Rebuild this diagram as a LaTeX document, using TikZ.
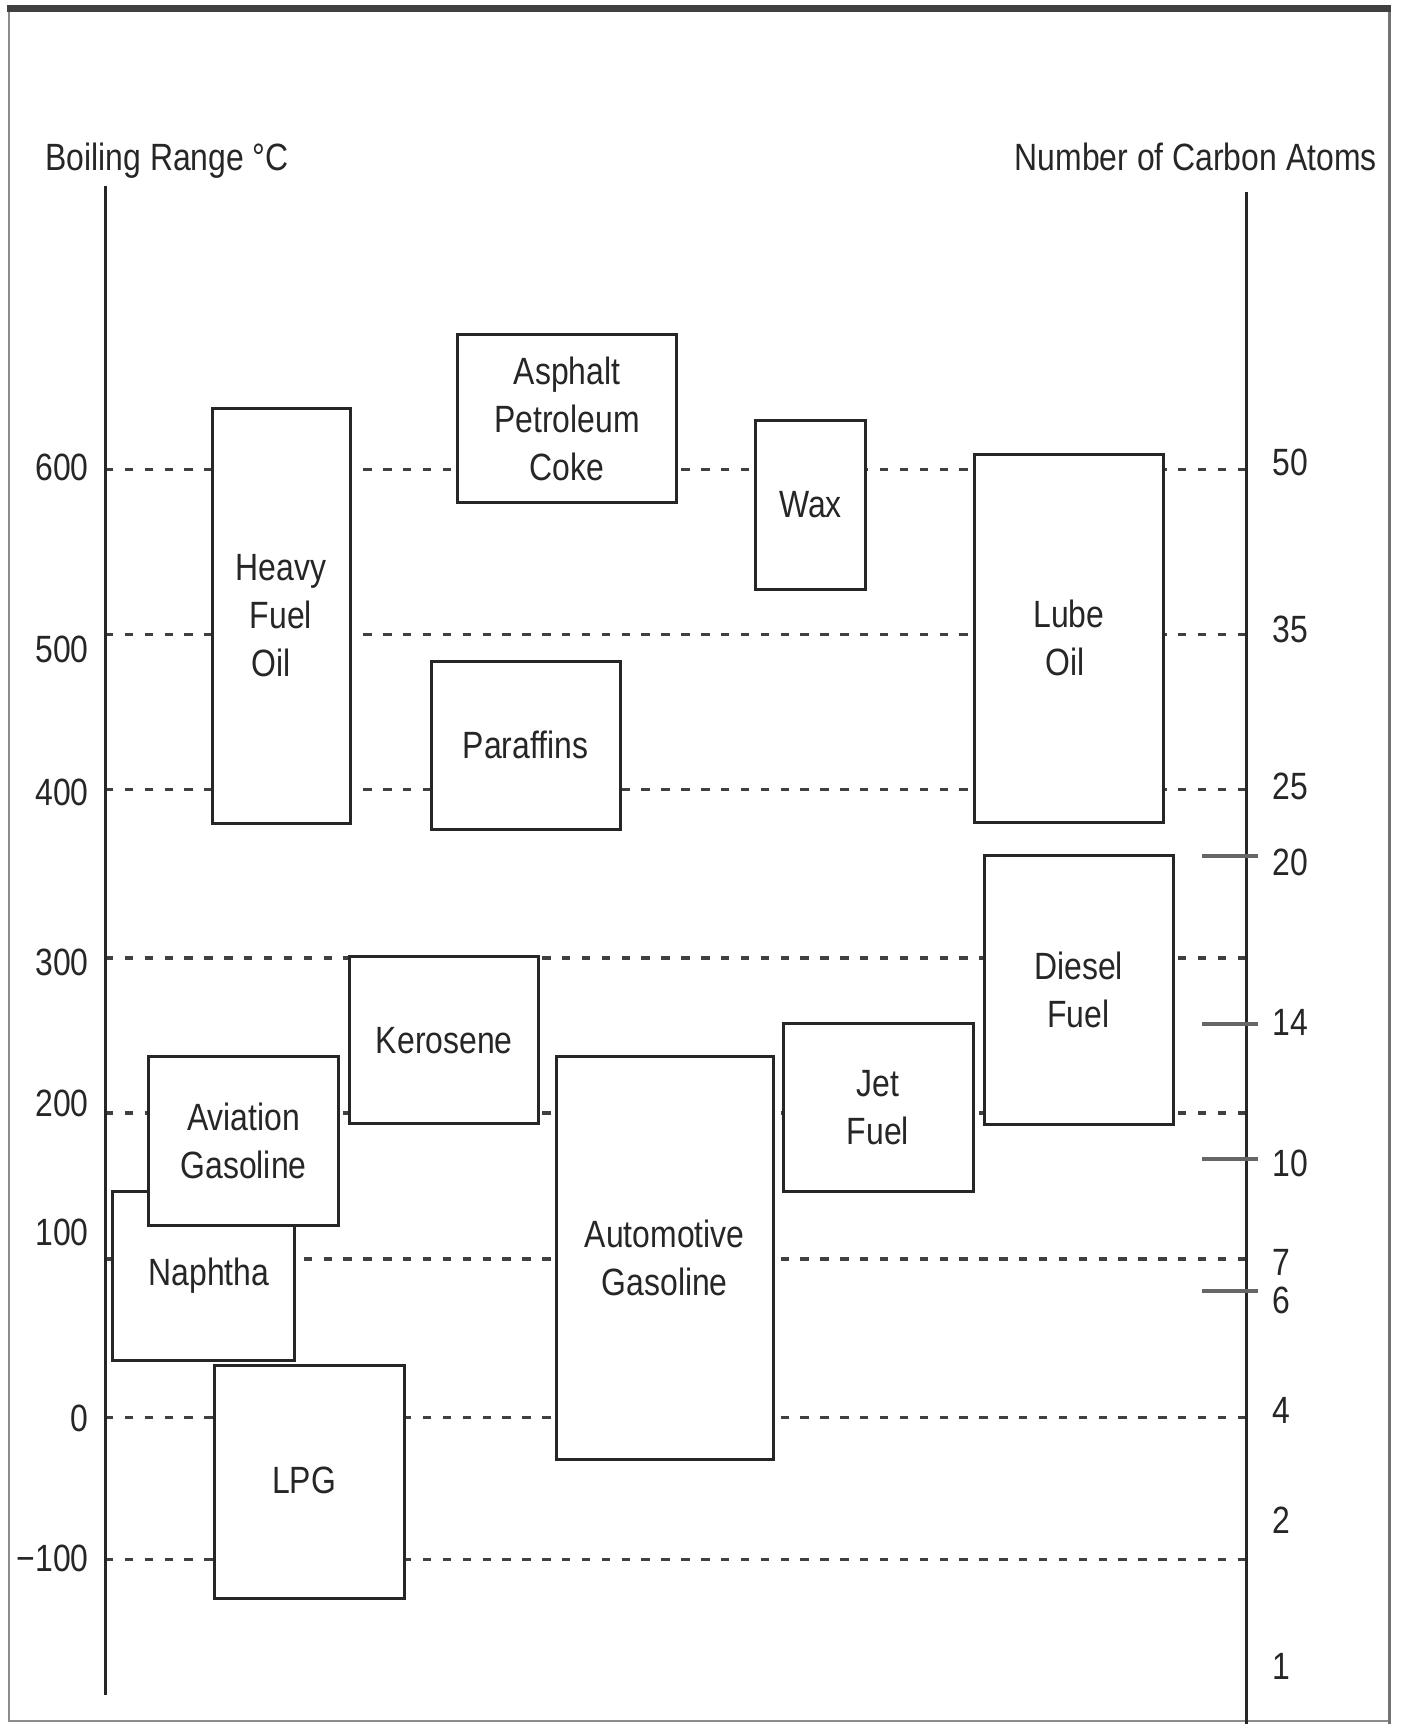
\documentclass[tikz,border=0pt]{standalone}
\usepackage{fontspec}
\setmainfont{Liberation Sans}[FakeStretch=0.84]
\begin{document}
\begin{tikzpicture}[x=0.5pt,y=-0.5pt,
  boxnode/.style={draw=black!85, fill=white, line width=1.5pt, inner sep=0pt, align=center,
    font=\fontsize{19}{24}\selectfont, text=black!85},
  gridline/.style={draw=black!75, line width=1.8pt, dash pattern=on 4.2pt off 5.735pt},
  axisline/.style={draw=black!85, line width=1.5pt},
  tickmark/.style={draw=black!60, line width=2pt},
  lbl/.style={font=\fontsize{19}{24}\selectfont, text=black!85, inner sep=0pt}]
\useasboundingbox (0,0) rectangle (1401,1724);
% frame
\draw[black!45, line width=1pt] (9,8) -- (9,1721) -- (1389,1721);
\draw[black!55, line width=1.5pt] (1389,8) -- (1389,1724);
\draw[black!75, line width=3.5pt] (7,8.5) -- (1391,8.5);
% axes
\coordinate (LT) at (105,186);
\coordinate (LB) at (105,1695);
\coordinate (RT) at (1246,192);
\coordinate (RB) at (1246,1724);
% grid lines
\foreach \yy in {469.6,634.5,789.6,957.8,1112.9,1259,1417.5,1559.4}
  \draw[gridline] (105,\yy) -- (1246,\yy);
\draw[axisline] (LT) -- (LB);
\draw[axisline] (RT) -- (RB);
% ticks on the right axis
\foreach \yy in {856,1024,1159,1291}
  \draw[tickmark] (1202,\yy) -- (1258,\yy);
% headers
\node[lbl, anchor=base west] (hl) at (45,170) {Boiling Range °C};
\node[lbl, anchor=base east] (hr) at (1377,170) {Number of Carbon Atoms};
% left labels
\foreach \t/\yy [count=\i] in {600/480.5,500/662.5,400/805.5,300/975.5,200/1116.5,100/1245.5,0/1431.5,{−100}/1571.5}
  \node[lbl, anchor=base east] (ll\i) at (89,\yy) {\t};
% right labels
\foreach \t/\yy [count=\i] in {50/475.5,35/642.5,25/799.5,20/875.5,14/1035.5,10/1176.5,7/1275.5,6/1313.5,4/1423.5,2/1533.5,1/1679.5}
  \node[lbl, anchor=base west] (rl\i) at (1272,\yy) {\t};
% boxes
\node[boxnode, minimum width=69pt, minimum height=207.5pt] (hfo) at (281,615.5) {Heavy\\Fuel\\\hspace*{-10pt}Oil};
\node[boxnode, minimum width=109.4pt, minimum height=84.15pt] (asp) at (567,418.5) {Asphalt\\Petroleum\\Coke};
\node[boxnode, minimum width=55pt, minimum height=84.7pt] (wax) at (810.5,504.7) {Wax};
\node[boxnode, minimum width=94.6pt, minimum height=184.2pt] (lube) at (1068.9,638.4) {Lube\\\hspace*{-4pt}Oil};
\node[boxnode, minimum width=94.5pt, minimum height=84pt] (par) at (525.5,745) {Paraffins};
\node[boxnode, minimum width=94.5pt, minimum height=134.2pt] (dsl) at (1078.5,989.8) {Diesel\\Fuel};
\node[boxnode, minimum width=94.6pt, minimum height=83.65pt] (ker) at (444.3,1040.3) {Kerosene};
\node[boxnode, minimum width=95pt, minimum height=83.6pt] (jet) at (878,1107.4) {Jet\\Fuel};
\node[boxnode, minimum width=108.3pt, minimum height=201.25pt] (auto) at (664.7,1258) {Automotive\\Gasoline};
\node[boxnode, minimum width=91pt, minimum height=84.5pt] (nap) at (203,1275.5) {};
\node[lbl] (naptext) at (209,1276) {Naphtha};
\node[boxnode, minimum width=95.1pt, minimum height=84.1pt] (avg) at (243.6,1140.9) {Aviation\\Gasoline};
\node[boxnode, minimum width=95pt, minimum height=116.5pt] (lpg) at (309,1481.5) {};
\node[lbl] (lpgtext) at (304,1480) {LPG};
\end{tikzpicture}
\end{document}
